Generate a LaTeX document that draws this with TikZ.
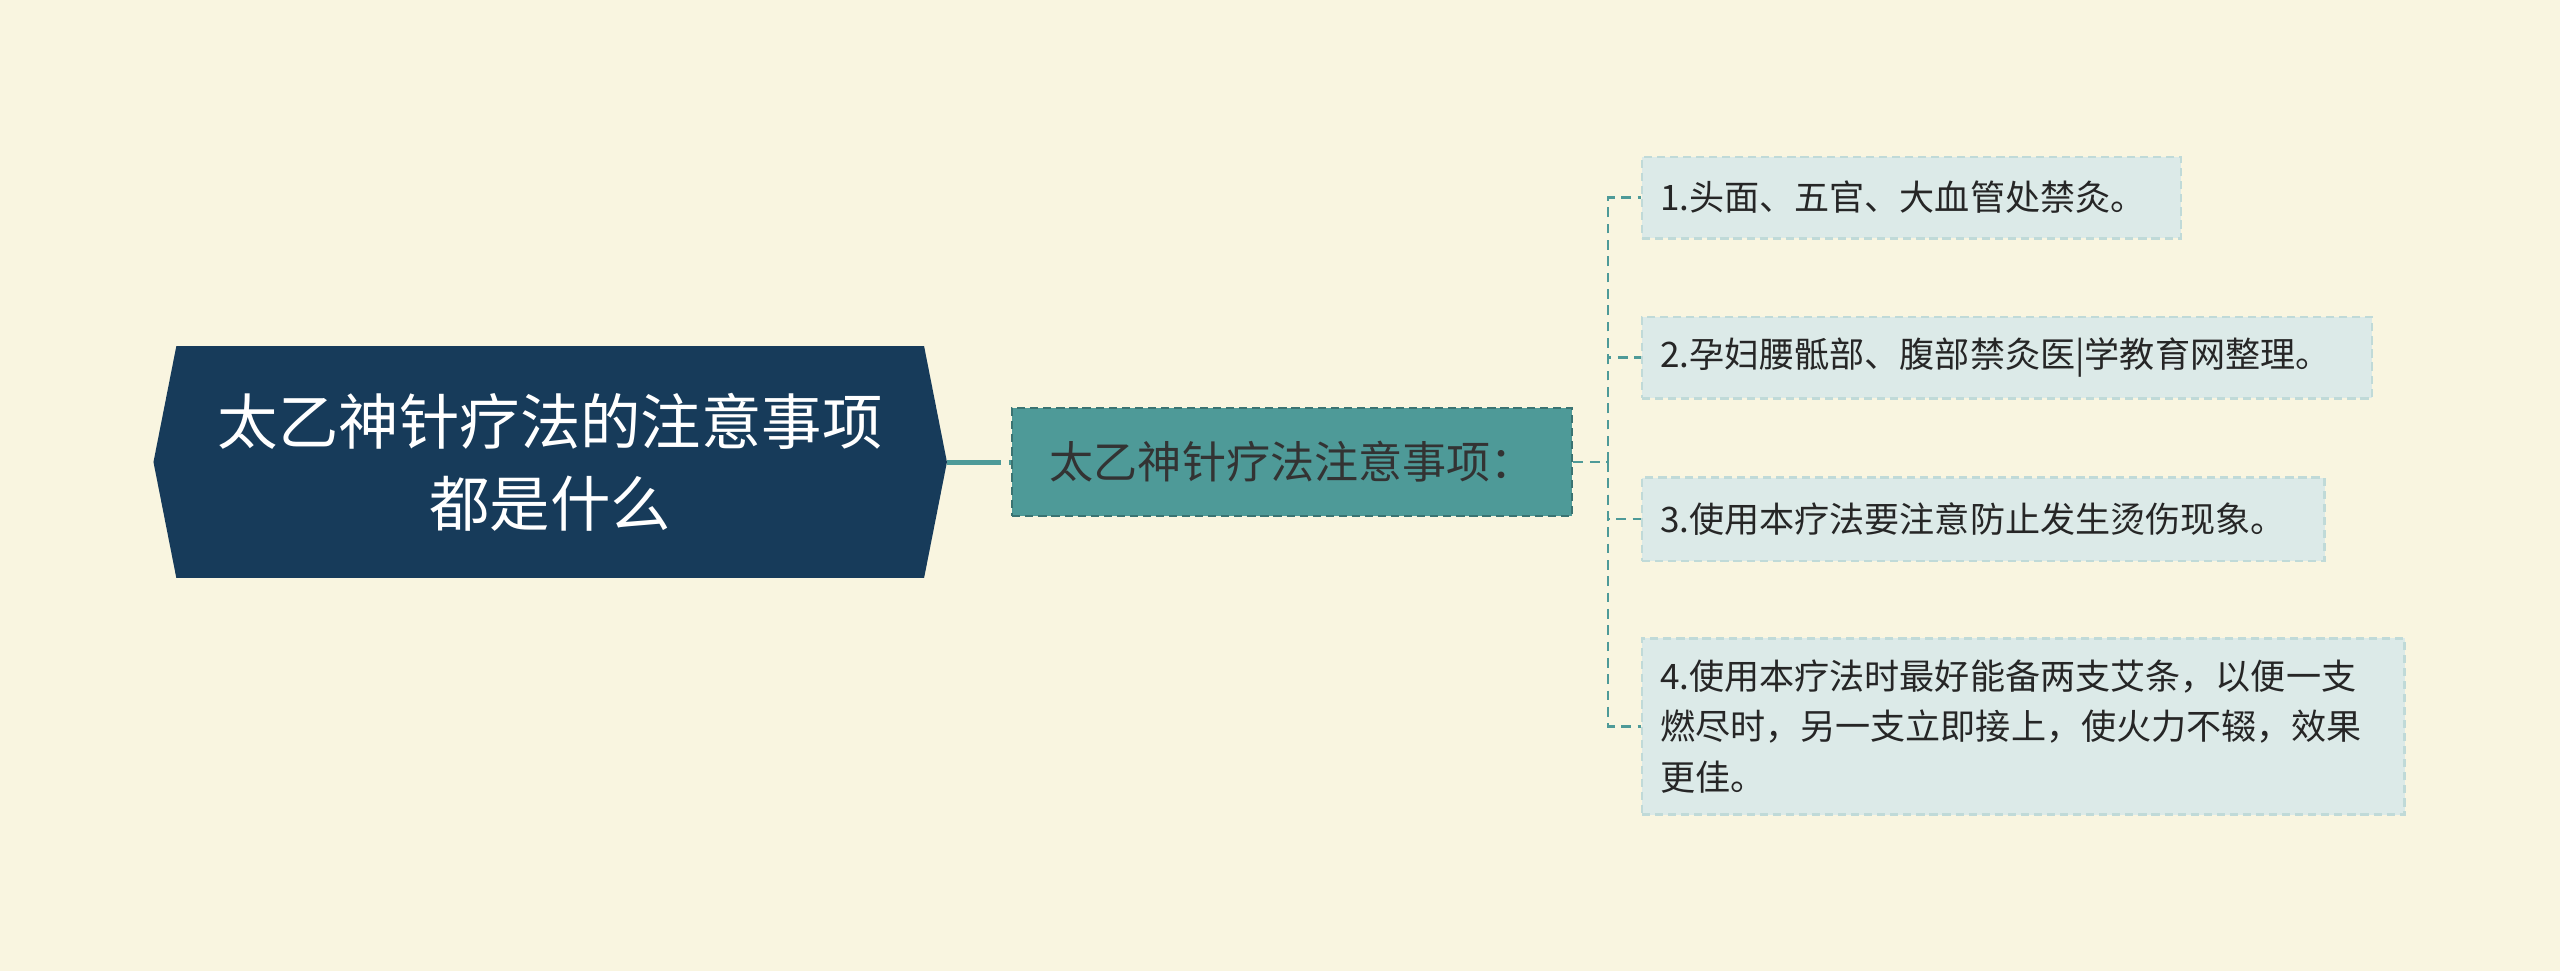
\documentclass[tikz,border=0pt]{standalone}
\usepackage{fontspec}
\setmainfont{Noto Sans CJK SC}
\definecolor{bg}{HTML}{F9F5E0}
\definecolor{rootc}{HTML}{173B5A}
\definecolor{midc}{HTML}{4E9A98}
\definecolor{leafc}{HTML}{DCEAE8}
\definecolor{linec}{HTML}{4E9A98}
\begin{document}
\begin{tikzpicture}[x=1pt,y=-1pt,
  leaf/.style={draw=leafc!80!midc,dash pattern=on 5pt off 3pt,line width=1.5pt,fill=leafc,anchor=west,align=left,inner xsep=11pt,font=\fontsize{21.5}{31}\selectfont,text=black!85},
  conn/.style={draw=linec,dash pattern=on 6pt off 4pt,line width=1.5pt}]
\fill[bg] (0,0) rectangle (1568,595);
\useasboundingbox (0,0) rectangle (1568,595);
\fill[rootc] (108,212)--(566,212)--(580,283)--(566,354)--(108,354)--(94,283)--cycle;
\node[text=white,align=center,font=\fontsize{37}{50}\selectfont] (root) at (337,283) {太乙神针疗法的注意事项\\都是什么};
\coordinate (rr) at (580,283);
\node[draw=midc!75!black,dash pattern=on 5pt off 3pt,line width=1.5pt,fill=midc,minimum width=343pt,minimum height=66pt,font=\fontsize{27}{30}\selectfont,text=black!80] (mid) at (791.5,283) {太乙神针疗法注意事项：};
\draw[linec,line width=3pt] (rr) -- (605,283);
\draw[linec,line width=3pt,dash pattern=on 8pt off 5pt] (605,283) -- (mid.west);
\node[leaf,minimum height=50pt,text width=308pt] (l1) at (1005,121) {1.头面、五官、大血管处禁灸。};
\node[leaf,minimum height=50pt,text width=425pt] (l2) at (1005,219) {2.孕妇腰骶部、腹部禁灸医|学教育网整理。};
\node[leaf,minimum height=51pt,text width=396pt] (l3) at (1005,318) {3.使用本疗法要注意防止发生烫伤现象。};
\node[leaf,minimum height=108pt,text width=445pt] (l4) at (1005,445) {4.使用本疗法时最好能备两支艾条，以便一支\\燃尽时，另一支立即接上，使火力不辍，效果\\更佳。};
\coordinate (j) at (985,283);
\draw[conn] (mid.east) -- (j);
\foreach \n in {l1,l2,l3,l4} \draw[conn] (j) |- (\n.west);
\end{tikzpicture}
\end{document}
